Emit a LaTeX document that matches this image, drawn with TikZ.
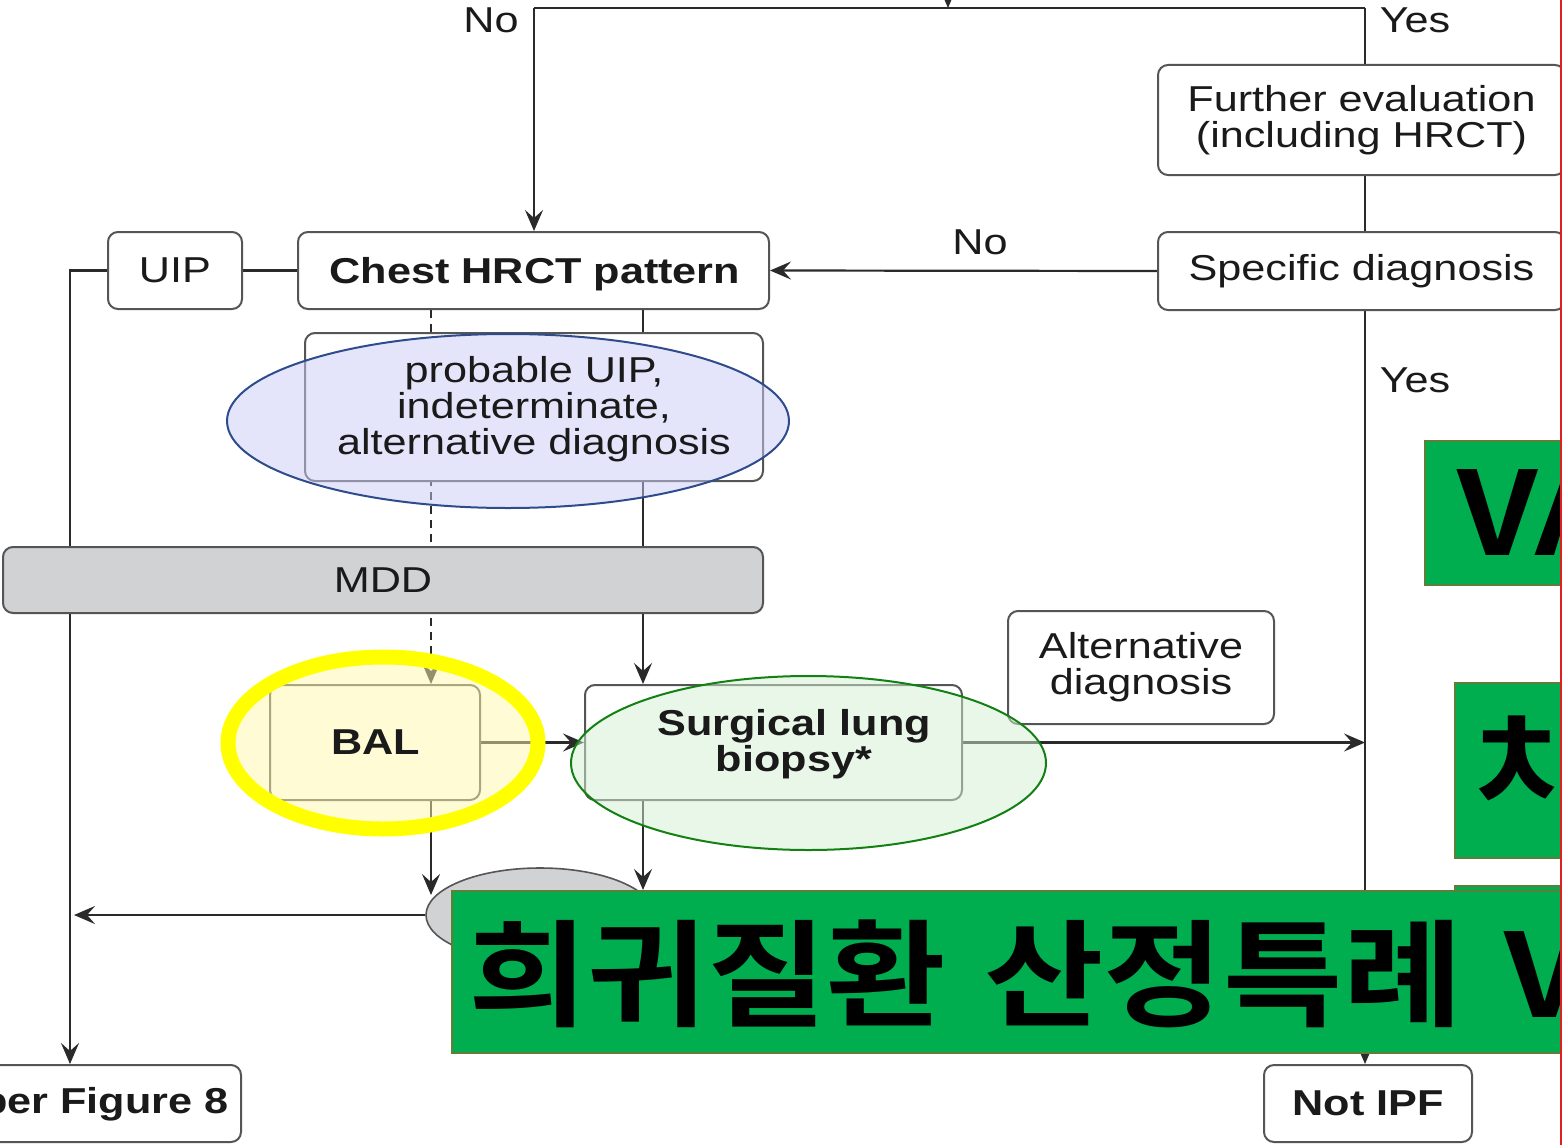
\documentclass[tikz,border=0pt]{standalone}
\usepackage{fontspec}
\setmainfont{Liberation Sans}[FakeStretch=1.2]
\newfontfamily\krfont{Noto Sans CJK KR Bold}[FakeStretch=1.12]
\usetikzlibrary{arrows.meta,shapes.geometric}
\pgfdeclarelayer{base}\pgfdeclarelayer{bg}\pgfdeclarelayer{ov}\pgfdeclarelayer{fg}\pgfdeclarelayer{topl}
\pgfsetlayers{base,bg,main,ov,fg,topl}
\definecolor{edge}{HTML}{555555}
\definecolor{ln}{HTML}{2A2A2A}
\definecolor{ink}{HTML}{1A1A1A}
\definecolor{mddfill}{HTML}{D1D2D4}
\definecolor{bluefill}{HTML}{CBCDF7}
\definecolor{blueedge}{HTML}{2E4C8C}
\definecolor{yelfill}{HTML}{FFF9AB}
\definecolor{yelring}{HTML}{FFFF00}
\definecolor{grnfill}{HTML}{D5F1D5}
\definecolor{grnedge}{HTML}{138013}
\definecolor{banner}{HTML}{00AD4F}
\definecolor{banneredge}{HTML}{5E7F3A}
\definecolor{redline}{HTML}{E02020}
\newcommand\fsz{\fontsize{18}{18}\selectfont}
\newcommand\fkr{\fontsize{58}{60}\selectfont\krfont}
\tikzset{
  bx/.style={draw=edge, line width=1pt, rounded corners=5pt, fill=white, inner sep=0pt, align=center, text=ink, font=\fsz},
  txt/.style={inner sep=0pt, align=center, text=ink, font=\fsz},
  conn/.style={draw=ln, line width=1.1pt},
  arr/.style={conn, -{Stealth[length=10.5pt,width=9pt,inset=4pt]}},
  dashconn/.style={arr, dash pattern=on 4pt off 3pt},
  gbox/.style={draw=banneredge, line width=0.8pt, fill=banner, anchor=north west, inner sep=0pt},
  krtxt/.style={inner sep=0pt, anchor=base west, text=black, font=\fkr}
}
\begin{document}
\begin{tikzpicture}[x=0.5pt,y=-0.5pt]
\useasboundingbox (0,0) rectangle (1562,1145);
\begin{pgfonlayer}{base}
\fill[white] (0,0) rectangle (1562,1145);
\end{pgfonlayer}

% boxes
\node[bx, minimum width=203.5pt, minimum height=55pt] (further) at (1361.5,120) {Further evaluation\\(including HRCT)};
\node[bx, minimum width=203.5pt, minimum height=39pt] (spec) at (1361.5,271) {Specific diagnosis};
\node[bx, minimum width=235.5pt, minimum height=38.5pt] (chest) at (533.5,270.5) {};
\node[bx, minimum width=67pt, minimum height=38.5pt] (uip) at (175,270.5) {UIP};
\node[bx, minimum width=229pt, minimum height=74pt] (prob) at (534,407) {};
\node[bx, fill=mddfill, minimum width=380pt, minimum height=33pt] (mdd) at (383,580) {MDD};
\node[bx, minimum width=105pt, minimum height=57.5pt] (bal) at (375,742.5) {};
\node[bx, minimum width=188.5pt, minimum height=57.5pt] (surg) at (773.5,742.5) {};
\node[bx, minimum width=133pt, minimum height=56.5pt] (alt) at (1141,667.5) {Alternative\\diagnosis};
\node[bx, minimum width=130.5pt, minimum height=38.5pt] (fig8) at (110.5,1103.5) {};
\node[bx, minimum width=104pt, minimum height=38.5pt, font=\fsz\bfseries] (notipf) at (1368,1103.5) {Not IPF};
\node[ellipse, draw=edge, line width=0.8pt, fill=mddfill, minimum width=114pt, minimum height=47pt, inner sep=0pt] (gell) at (540,915) {};

% coordinates
\coordinate (topin) at (948,-25);
\coordinate (topmid) at (948,8);
\coordinate (topL) at (534,8);
\coordinate (topR) at (1365,8);
\coordinate (lx) at (70,0);
\coordinate (dx) at (431,0);
\coordinate (sx) at (643,0);
\coordinate (balin) at (431,895);
\coordinate (surgin) at (643,890);

% connectors
\begin{pgfonlayer}{bg}
\draw[arr] (topin) -- (topmid);
\draw[conn] (topL) -- (topR);
\draw[arr] (topL) -- (topL |- chest.north);
\draw[conn] (topR) -- (topR |- further.north);
\draw[conn] (topR |- further.south) -- (topR |- spec.north);
\draw[arr] (spec.west) -- (chest.east);
\draw[arr] (topR |- spec.south) -- (topR |- notipf.north);
\draw[arr] (surg.east) -- (topR |- surg.east);
\draw[conn] (uip.east) -- (chest.west);
\draw[arr] (uip.west) -- (uip.west -| lx) -- (lx |- fig8.north);
\draw[dashconn] (dx |- chest.south) -- (dx |- bal.north);
\draw[arr] (sx |- chest.south) -- (sx |- surg.north);
\draw[arr] (bal.east) -- (surg.west);
\draw[arr] (dx |- bal.south) -- (balin);
\draw[arr] (sx |- surg.south) -- (surgin);
\draw[arr, shorten >=2pt] (gell.west) -- (gell.west -| lx);
\end{pgfonlayer}

% overlays
\begin{pgfonlayer}{ov}
\draw[blueedge, line width=1pt, fill=bluefill, fill opacity=0.5] (508,421) ellipse [x radius=140.5pt, y radius=43.5pt];
\draw[yelring, line width=7.5pt, fill=yelfill, fill opacity=0.5] (383,743) ellipse [x radius=77.5pt, y radius=43pt];
\draw[grnedge, line width=1pt, fill=grnfill, fill opacity=0.5] (808.5,763) ellipse [x radius=118.75pt, y radius=43.5pt];
\end{pgfonlayer}

% texts
\begin{pgfonlayer}{fg}
\node[txt, font=\fsz\bfseries, anchor=base] (chestt) at (535,283) {Chest HRCT pattern};
\node[txt] (probt) at (534,409) {probable UIP,\\indeterminate,\\alternative diagnosis};
\node[txt, font=\fsz\bfseries] (balt) at (376,742) {BAL};
\node[txt, font=\fsz\bfseries] (surgt) at (794,744) {Surgical lung\\biopsy*};
\node[txt, font=\fsz\bfseries, anchor=east] (fig8t) at (229,1104) {per Figure 8};
\node[txt, anchor=base] (no1) at (491,33) {No};
\node[txt, anchor=base] (yes1) at (1415,33) {Yes};
\node[txt, anchor=base] (no2) at (980,254) {No};
\node[txt, anchor=base] (yes2) at (1415,392) {Yes};
\end{pgfonlayer}

% green overlay boxes
\begin{pgfonlayer}{topl}
\node[gbox, minimum width=73pt, minimum height=72pt] (gva) at (1424,440) {};
\node[krtxt] (vat) at (1457,555) {VA};
\node[gbox, minimum width=58pt, minimum height=87.5pt] (gchi) at (1454,682) {};
\node[krtxt] (chit) at (1473,810) {치};
\node[gbox, minimum width=58pt, minimum height=50pt] (gthird) at (1454,885) {};
\node[gbox, minimum width=559.5pt, minimum height=81pt] (gban) at (451,890) {};
\node[krtxt] (bant) at (468,1017) {희귀질환\hspace{19pt}산정특례\hspace{21pt}V};
\coordinate (rtop) at (1561,0);
\coordinate (rbot) at (1561,1145);
\draw[redline, line width=0.6pt] (rtop) -- (rbot);
\end{pgfonlayer}
\end{tikzpicture}
\end{document}
